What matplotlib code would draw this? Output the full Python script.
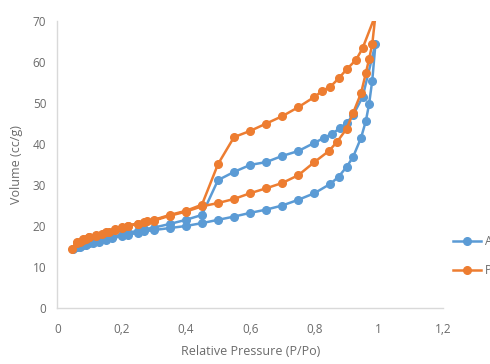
import numpy as np
import matplotlib
matplotlib.use("Agg")
import matplotlib.pyplot as plt

# sample A (blue): adsorption then desorption branch
a_ads_x = [0.05, 0.07, 0.09, 0.11, 0.13, 0.15, 0.17, 0.2, 0.22, 0.25, 0.27, 0.3, 0.35, 0.4, 0.45,
           0.5, 0.55, 0.6, 0.65, 0.7, 0.75, 0.8, 0.85, 0.875, 0.9, 0.92, 0.945, 0.96, 0.97, 0.98, 0.99]
a_ads_y = [14.3, 14.8, 15.3, 15.8, 16.2, 16.6, 17.0, 17.5, 17.9, 18.3, 18.7, 19.0, 19.5, 20.0, 20.7,
           21.5, 22.3, 23.2, 24.0, 25.0, 26.4, 28.0, 30.3, 32.0, 34.4, 36.8, 41.5, 45.6, 49.7, 55.5, 64.5]
a_des_x = [0.95, 0.92, 0.9, 0.88, 0.855, 0.83, 0.8, 0.75, 0.7, 0.65, 0.6, 0.55, 0.5, 0.45, 0.4,
           0.35, 0.3, 0.27, 0.25, 0.22, 0.2, 0.17, 0.15, 0.12, 0.1, 0.08, 0.06]
a_des_y = [51.5, 47.0, 45.1, 43.9, 42.5, 41.5, 40.3, 38.3, 37.1, 35.6, 34.9, 33.2, 31.2, 22.7, 21.5,
           20.5, 19.6, 19.2, 18.8, 18.4, 17.9, 17.4, 17.0, 16.4, 15.8, 15.3, 14.8]

# sample P (orange)
p_ads_x = [0.045, 0.06, 0.07, 0.08, 0.09, 0.1, 0.12, 0.14, 0.16, 0.18, 0.2, 0.22, 0.25, 0.27, 0.3,
           0.35, 0.4, 0.45, 0.5, 0.55, 0.6, 0.65, 0.7, 0.75, 0.8, 0.845, 0.87, 0.9, 0.92, 0.945,
           0.96, 0.97, 0.98, 0.99]
p_ads_y = [14.3, 15.8, 16.2, 16.6, 16.9, 17.2, 17.6, 18.1, 18.6, 19.0, 19.5, 20.0, 20.5, 21.0, 21.3,
           22.5, 23.5, 24.8, 25.6, 26.6, 28.0, 29.2, 30.5, 32.4, 35.6, 38.3, 40.5, 43.7, 47.5, 52.4,
           57.3, 60.7, 64.4, 71.5]
p_des_x = [0.95, 0.93, 0.9, 0.875, 0.85, 0.825, 0.8, 0.75, 0.7, 0.65, 0.6, 0.55, 0.5, 0.45, 0.4,
           0.35, 0.3, 0.28, 0.25, 0.22, 0.2, 0.18, 0.15, 0.12, 0.1, 0.08, 0.06]
p_des_y = [63.4, 60.6, 58.2, 56.0, 54.0, 53.0, 51.5, 49.0, 46.8, 45.0, 43.2, 41.7, 35.1, 25.2, 23.7,
           22.7, 21.5, 21.2, 20.6, 20.1, 19.7, 19.2, 18.5, 17.8, 17.3, 16.8, 16.2]

labels = ["A", "P"]
xticks = [0, 0.2, 0.4, 0.6, 0.8, 1, 1.2]
yticks = [0, 10, 20, 30, 40, 50, 60, 70]

blue = "#5B9BD5"
orange = "#ED7D31"
grey = "#6B6B6B"

plt.rcParams['font.family'] = ['Open Sans', 'DejaVu Sans']

fig = plt.figure(figsize=(4.9, 3.64), dpi=100)
ax = fig.add_axes([0.117, 0.154, 0.787, 0.788])

ax.plot(a_ads_x + a_des_x, a_ads_y + a_des_y, color=blue, lw=1.8, marker="o", ms=5.5, label=labels[0])
ax.plot(p_ads_x + p_des_x, p_ads_y + p_des_y, color=orange, lw=1.8, marker="o", ms=5.5, label=labels[1])

ax.set_xlim(0, 1.2)
ax.set_ylim(0, 70)
ax.set_xticks(xticks)
ax.set_xticklabels([("%g" % t).replace(".", ",") for t in xticks])
ax.set_yticks(yticks)
for s in ["top", "right"]:
    ax.spines[s].set_visible(False)
for s in ["left", "bottom"]:
    ax.spines[s].set_color("#D9D9D9")
    ax.spines[s].set_linewidth(1.0)
ax.tick_params(axis="both", length=0, labelsize=8.5, labelcolor=grey)
ax.tick_params(axis="x", pad=11)
ax.tick_params(axis="y", pad=8)

ax.set_xlabel("Relative Pressure (P/Po)", fontsize=9, color=grey, labelpad=6)
ax.set_ylabel("Volume (cc/g)", fontsize=9, color=grey, labelpad=7)

ax.legend(loc="center left", bbox_to_anchor=(453 / 490, 1 - 256 / 364),
          bbox_transform=fig.transFigure, frameon=False, fontsize=8.5,
          handlelength=2.4, handletextpad=0.3, labelspacing=1.3,
          borderpad=0, borderaxespad=0, labelcolor=grey)

fig.savefig("out.png", dpi=100)
